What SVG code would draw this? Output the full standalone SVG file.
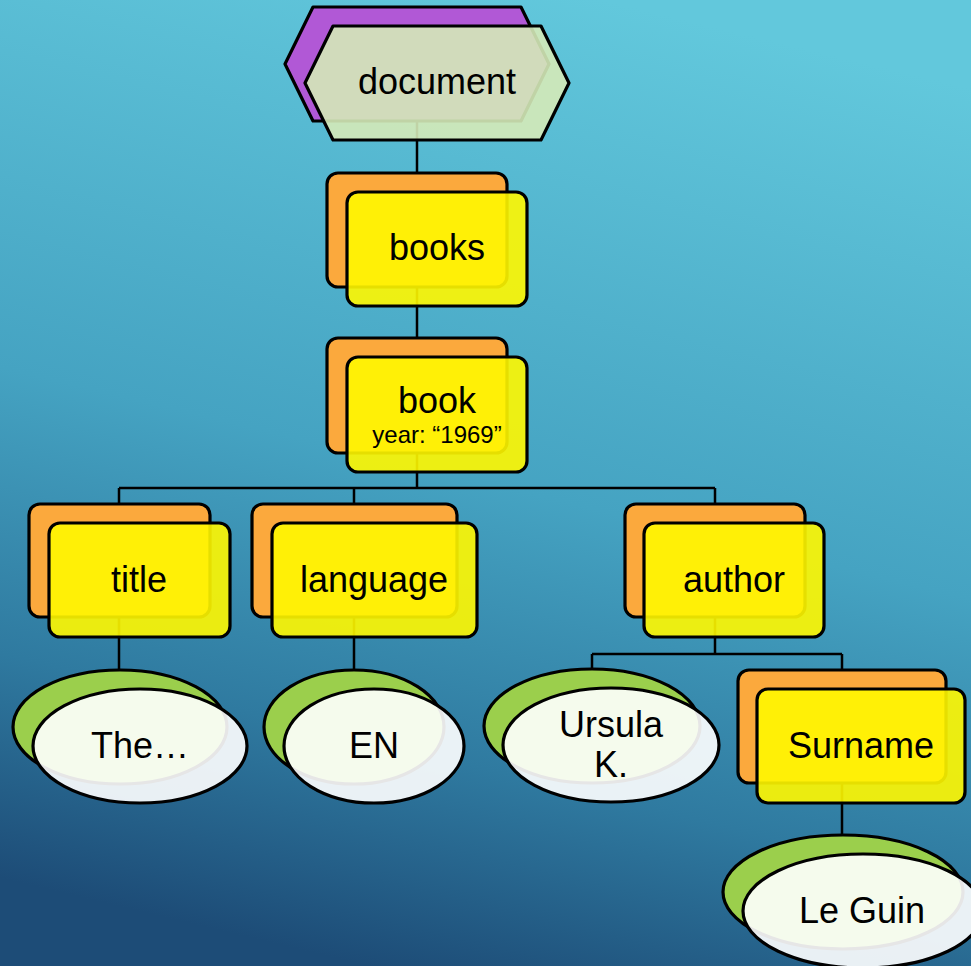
<svg xmlns="http://www.w3.org/2000/svg" width="971" height="966" viewBox="0 0 971 966">
<defs>
<linearGradient id="bg" x1="0.62" y1="0" x2="0.38" y2="1">
<stop offset="0" stop-color="#62c8dc"/>
<stop offset="0.5" stop-color="#45a3c2"/>
<stop offset="0.78" stop-color="#2f7aa0"/>
<stop offset="1" stop-color="#1d4c77"/>
</linearGradient>
<style>
.s{stroke:#000;stroke-width:3.2;stroke-linejoin:round}
.back{fill:#fba93d}
.front{fill:#fff700;fill-opacity:0.9}
.eb{fill:#9bcf4c}
.ef{fill:#ffffff;fill-opacity:0.9}
.c{fill:none;stroke:#000;stroke-width:2.5}
.t{font-family:"Liberation Sans",Arial,sans-serif;font-size:36px;fill:#000;text-anchor:middle}
.sm{font-size:24px}
</style>
</defs>
<rect x="0" y="0" width="971" height="966" fill="url(#bg)"/>
<g id="connectors">
<path class="c" d="M417 121V173M417 287V338M417 453V488M119 488H715M119 488V504M354 488V504M715 488V504M119 617V670M354 617V670M715 617V654M592 654H842M592 654V669M842 654V670M842 783V835"/>
</g>
<g id="document">
<polygon class="s" fill="#b158d6" points="313,7 521,7 549,64 521,121 313,121 285,64"/>
<polygon class="s" fill="#d5eab8" fill-opacity="0.9" points="333,26 541,26 569,83 541,140 333,140 305,83"/>
<text class="t" x="437" y="94">document</text>
</g>
<g id="books">
<rect class="s back" x="327" y="173" width="180" height="114" rx="11"/>
<rect class="s front" x="347" y="192" width="180" height="114" rx="11"/>
<text class="t" x="437" y="260">books</text>
</g>
<g id="book">
<rect class="s back" x="327" y="338" width="180" height="115" rx="11"/>
<rect class="s front" x="347" y="357" width="180" height="115" rx="11"/>
<text class="t" x="437" y="413">book</text>
<text class="t sm" x="437" y="443">year: “1969”</text>
</g>
<g id="title">
<rect class="s back" x="29" y="504" width="181" height="113" rx="11"/>
<rect class="s front" x="49" y="523" width="181" height="114" rx="11"/>
<text class="t" x="139" y="592">title</text>
</g>
<g id="language">
<rect class="s back" x="252" y="504" width="205" height="113" rx="11"/>
<rect class="s front" x="272" y="523" width="205" height="114" rx="11"/>
<text class="t" x="374" y="592">language</text>
</g>
<g id="author">
<rect class="s back" x="625" y="504" width="180" height="113" rx="11"/>
<rect class="s front" x="644" y="523" width="180" height="114" rx="11"/>
<text class="t" x="734" y="592">author</text>
</g>
<g id="the">
<ellipse class="s eb" cx="120" cy="727" rx="107" ry="57"/>
<ellipse class="s ef" cx="140" cy="746" rx="107" ry="57"/>
<text class="t" x="140" y="758">The…</text>
</g>
<g id="en">
<ellipse class="s eb" cx="354" cy="727" rx="90" ry="57"/>
<ellipse class="s ef" cx="374" cy="746" rx="90" ry="57"/>
<text class="t" x="374" y="758">EN</text>
</g>
<g id="ursula">
<ellipse class="s eb" cx="592" cy="726" rx="108" ry="57"/>
<ellipse class="s ef" cx="611" cy="745" rx="108" ry="57"/>
<text class="t" x="611" y="737">Ursula</text>
<text class="t" x="611" y="777">K.</text>
</g>
<g id="surname">
<rect class="s back" x="738" y="670" width="208" height="113" rx="11"/>
<rect class="s front" x="757" y="689" width="208" height="114" rx="11"/>
<text class="t" x="861" y="758">Surname</text>
</g>
<g id="leguin">
<ellipse class="s eb" cx="843" cy="892" rx="120" ry="57"/>
<ellipse class="s ef" cx="863" cy="911" rx="120" ry="57"/>
<text class="t" x="862" y="923">Le Guin</text>
</g>
</svg>
